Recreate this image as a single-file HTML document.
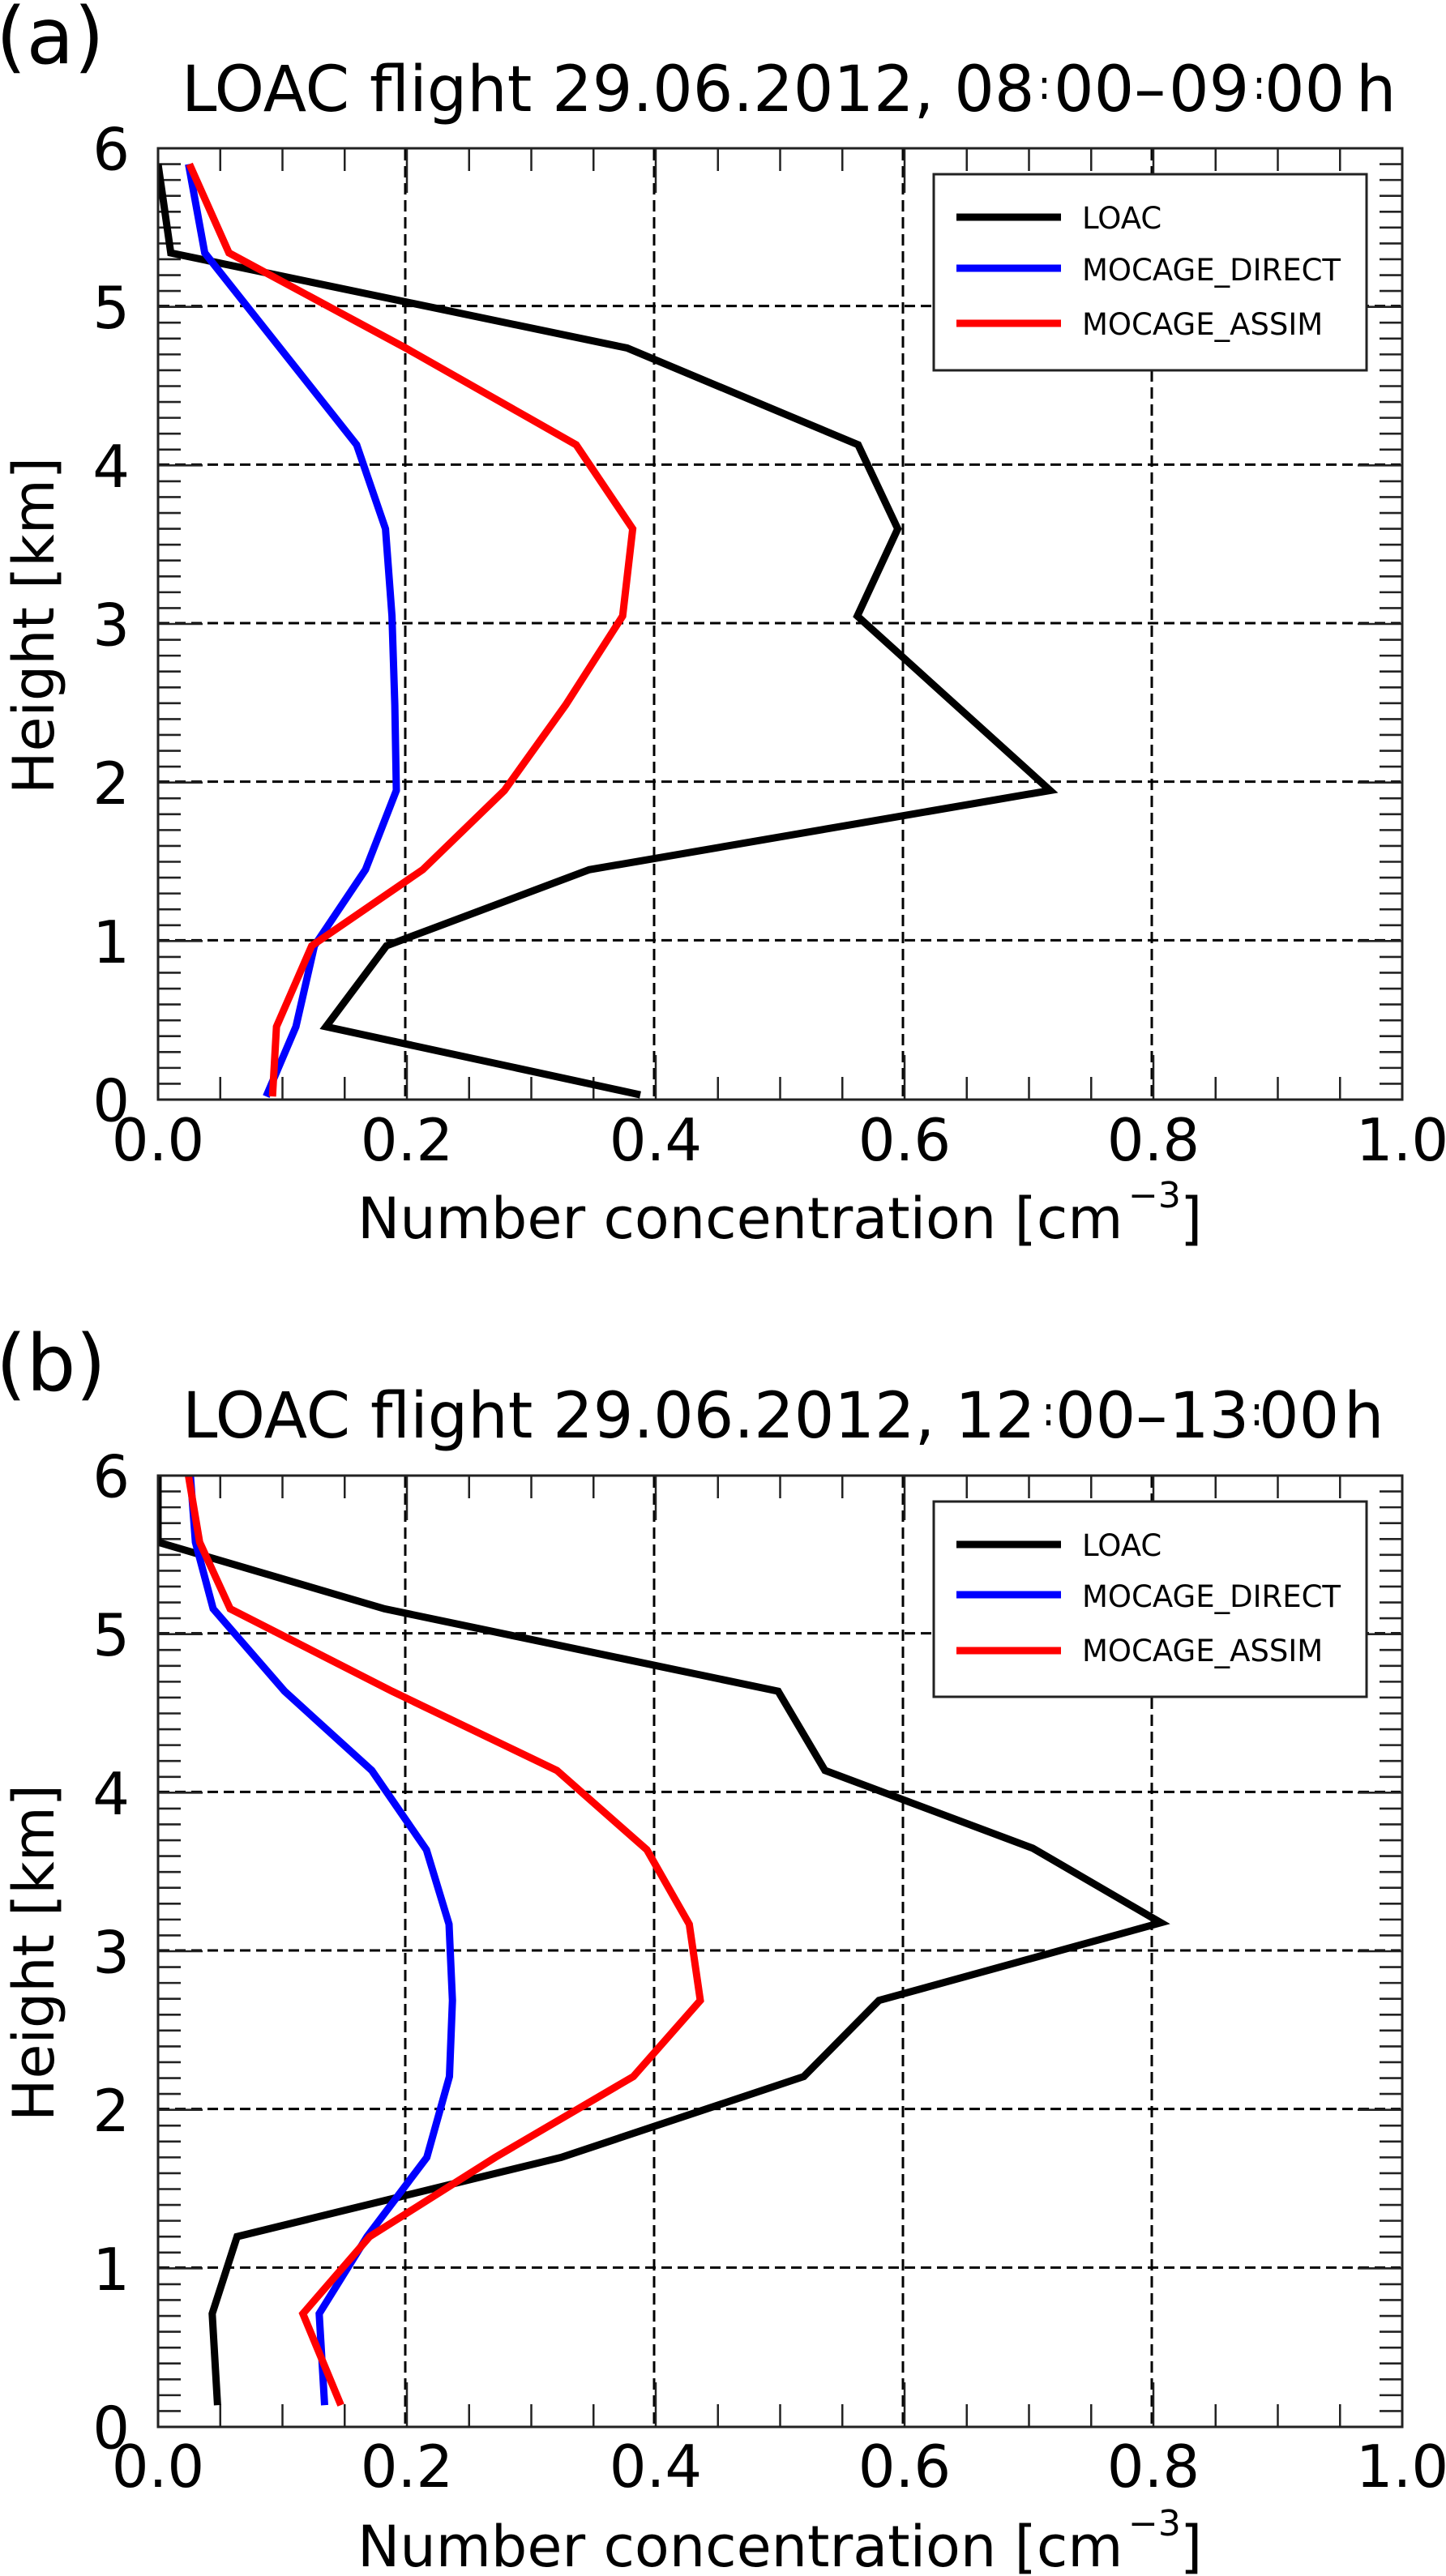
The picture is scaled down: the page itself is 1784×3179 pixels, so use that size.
<!DOCTYPE html>
<html lang="en">
<head>
<meta charset="utf-8">
<title>LOAC flight 29.06.2012 profiles</title>
<style>
html,body{margin:0;padding:0;background:#fff;}
svg{display:block;}
text{font-family:"DejaVu Sans","Liberation Sans",sans-serif;fill:#000;}
.title{font-size:78px;}
.tick{font-size:72px;}
.axis{font-size:70px;}
.panel{font-size:96px;}
.leg{font-size:37px;}
</style>
</head>
<body>
<svg id="fig" xmlns="http://www.w3.org/2000/svg" width="1784" height="3179" viewBox="0 0 1784 3179">
  <rect width="1784" height="3179" fill="#fff"/>
  <defs>
    <clipPath id="clip-a"><rect x="195" y="183" width="1535" height="1174"/></clipPath>
    <clipPath id="clip-b"><rect x="195" y="1821" width="1535" height="1174"/></clipPath>
  </defs>

  <g id="plot-a"></g>
  <g id="plot-b"></g>

  <text class="panel" x="-5" y="78">(a)</text>
  <text class="panel" x="-5" y="1716">(b)</text>

  <text class="title" x="224" y="137">LOAC flight 29.06.2012, 08<tspan x="1280" y="122" font-size="50">:</tspan><tspan x="1300" y="137">00–</tspan><tspan x="1442" y="137">09</tspan><tspan x="1545" y="122" font-size="50">:</tspan><tspan x="1560" y="137">00</tspan><tspan x="1673" y="137">h</tspan></text>
  <text class="title" x="225" y="1774">LOAC flight 29.06.2012, 12<tspan x="1285" y="1759" font-size="50">:</tspan><tspan x="1302" y="1774">00–</tspan><tspan x="1442" y="1774">13</tspan><tspan x="1542" y="1759" font-size="50">:</tspan><tspan x="1553" y="1774">00</tspan><tspan x="1658" y="1774">h</tspan></text>

  <text class="axis" x="441" y="1528">Number concentration [cm<tspan x="1392" y="1490" font-size="44">−3</tspan><tspan x="1456" y="1528">]</tspan></text>
  <text class="axis" x="441" y="3167">Number concentration [cm<tspan x="1392" y="3129" font-size="44">−3</tspan><tspan x="1456" y="3167">]</tspan></text>

  <text class="axis" transform="translate(66,980) rotate(-90)" textLength="416" lengthAdjust="spacingAndGlyphs">Height [km]</text>
  <text class="axis" transform="translate(66,2618) rotate(-90)" textLength="416" lengthAdjust="spacingAndGlyphs">Height [km]</text>

  <g>
    <rect x="1152" y="215" width="534" height="242" fill="#fff" stroke="#222" stroke-width="3"/>
    <line x1="1180" x2="1309" y1="268" y2="268" stroke="#000" stroke-width="9"/>
    <text class="leg" x="1335" y="282">LOAC</text>
    <line x1="1180" x2="1309" y1="331" y2="331" stroke="#0000ff" stroke-width="9"/>
    <text class="leg" x="1335" y="346">MOCAGE_DIRECT</text>
    <line x1="1180" x2="1309" y1="399" y2="399" stroke="#ff0000" stroke-width="9"/>
    <text class="leg" x="1335" y="413">MOCAGE_ASSIM</text>
  </g>
  <g>
    <rect x="1152" y="1853" width="534" height="241" fill="#fff" stroke="#222" stroke-width="3"/>
    <line x1="1180" x2="1309" y1="1906" y2="1906" stroke="#000" stroke-width="9"/>
    <text class="leg" x="1335" y="1920">LOAC</text>
    <line x1="1180" x2="1309" y1="1968" y2="1968" stroke="#0000ff" stroke-width="9"/>
    <text class="leg" x="1335" y="1983">MOCAGE_DIRECT</text>
    <line x1="1180" x2="1309" y1="2037" y2="2037" stroke="#ff0000" stroke-width="9"/>
    <text class="leg" x="1335" y="2050">MOCAGE_ASSIM</text>
  </g>
</svg>
<script>
// Tick labels
const xTickValues = [0, 0.2, 0.4, 0.6, 0.8, 1.0];
const xTickLabels = ['0.0', '0.2', '0.4', '0.6', '0.8', '1.0'];
const yTickValues = [0, 1, 2, 3, 4, 5, 6];
const yTickLabels = ['0', '1', '2', '3', '4', '5', '6'];

// Panel (a): heights in km, concentrations in cm^-3
const aLoacHeights = [5.9, 5.34, 4.74, 4.13, 3.6, 3.05, 1.95, 1.45, 0.97, 0.46, 0.03];
const aLoacValues = [0.0, 0.0102, 0.377, 0.5627, 0.5945, 0.562, 0.717, 0.3466, 0.1836, 0.135, 0.3876];
const aDirectHeights = [5.9, 5.34, 4.13, 3.6, 3.05, 2.49, 1.95, 1.45, 0.97, 0.46, 0.02];
const aDirectValues = [0.0245, 0.0375, 0.1596, 0.1828, 0.188, 0.1903, 0.1915, 0.1667, 0.1257, 0.1108, 0.0869];
const aAssimHeights = [5.9, 5.34, 4.74, 4.13, 3.6, 3.05, 2.49, 1.95, 1.45, 0.97, 0.46, 0.02];
const aAssimValues = [0.0252, 0.057, 0.199, 0.336, 0.3815, 0.3734, 0.3277, 0.2784, 0.2127, 0.1235, 0.0952, 0.092];

// Panel (b)
const bLoacHeights = [6.0, 5.58, 5.16, 4.64, 4.14, 3.65, 3.18, 2.69, 2.21, 1.7, 1.2, 0.714, 0.137];
const bLoacValues = [0.0, 0.0, 0.182, 0.4984, 0.536, 0.703, 0.806, 0.5795, 0.519, 0.324, 0.0635, 0.0435, 0.0478];
const bDirectHeights = [6.0, 5.58, 5.16, 4.64, 4.14, 3.64, 3.17, 2.69, 2.21, 1.7, 1.2, 0.714, 0.137];
const bDirectValues = [0.026, 0.03, 0.0443, 0.1017, 0.1718, 0.2157, 0.2339, 0.2366, 0.2342, 0.216, 0.168, 0.1295, 0.1339];
const bAssimHeights = [6.0, 5.58, 5.16, 4.64, 4.14, 3.64, 3.17, 2.69, 2.21, 1.7, 1.2, 0.714, 0.137];
const bAssimValues = [0.0244, 0.0334, 0.058, 0.188, 0.3206, 0.3929, 0.427, 0.4358, 0.382, 0.271, 0.17, 0.1164, 0.147];

const NS = 'http://www.w3.org/2000/svg';
const LEFT = 195, RIGHT = 1730, PLOT_H = 1174;

function xScale(v) { return LEFT + (RIGHT - LEFT) * v; }

function addLine(parent, x1, y1, x2, y2, stroke, width, dash) {
  const el = document.createElementNS(NS, 'line');
  el.setAttribute('x1', x1);
  el.setAttribute('y1', y1);
  el.setAttribute('x2', x2);
  el.setAttribute('y2', y2);
  el.setAttribute('stroke', stroke);
  el.setAttribute('stroke-width', width);
  if (dash) el.setAttribute('stroke-dasharray', dash);
  parent.appendChild(el);
  return el;
}

function addLabel(parent, x, y, anchor, str) {
  const el = document.createElementNS(NS, 'text');
  el.setAttribute('class', 'tick');
  el.setAttribute('x', x);
  el.setAttribute('y', y);
  el.setAttribute('text-anchor', anchor);
  el.textContent = str;
  parent.appendChild(el);
  return el;
}

function addSeries(parent, clipId, heights, values, yScale, color, name) {
  const el = document.createElementNS(NS, 'polyline');
  el.setAttribute('points', heights.map(function (h, i) {
    return xScale(values[i]).toFixed(1) + ',' + yScale(h).toFixed(1);
  }).join(' '));
  el.setAttribute('fill', 'none');
  el.setAttribute('stroke', color);
  el.setAttribute('stroke-width', '9');
  el.setAttribute('stroke-linejoin', 'miter');
  el.setAttribute('clip-path', 'url(#' + clipId + ')');
  
  
  parent.appendChild(el);
}

function drawPanel(groupId, clipId, top, prefix, labelBaseline, series) {
  const group = document.getElementById(groupId);
  const bottom = top + PLOT_H;
  const yScale = function (h) { return bottom - (PLOT_H / 6) * h; };

  // grid
  const grid = document.createElementNS(NS, 'g');
  
  
  group.appendChild(grid);
  xTickValues.slice(1, -1).forEach(function (v) {
    const line = addLine(grid, xScale(v) - 2, top + 1, xScale(v) - 2, bottom, '#000', 3, '14 7');
    
    
  });
  yTickValues.slice(1, -1).forEach(function (v) {
    const line = addLine(grid, LEFT + 1, yScale(v) - 1, RIGHT - 2, yScale(v) - 1, '#000', 3, '13 7');
    
    
  });

  // ticks
  const ticks = document.createElementNS(NS, 'g');
  
  
  ticks.setAttribute('stroke-linecap', 'butt');
  group.appendChild(ticks);
  for (let i = 1; i < 20; i++) {
    const len = i % 4 === 0 ? 55 : 28;
    const tx = xScale(i / 20);
    addLine(ticks, tx, bottom, tx, bottom - len, '#222', 2.5);
    addLine(ticks, tx, top, tx, top + len, '#222', 2.5);
  }
  for (let i = 1; i < 60; i++) {
    const len = i % 10 === 0 ? 55 : 28;
    const ty = yScale(i / 10);
    addLine(ticks, LEFT, ty, LEFT + len, ty, '#222', 2.6);
    addLine(ticks, RIGHT, ty, RIGHT - len, ty, '#222', 2.6);
  }

  // series
  series.forEach(function (s) {
    addSeries(group, clipId, s.heights, s.values, yScale, s.color, s.name);
  });

  // frame
  const frame = document.createElementNS(NS, 'rect');
  frame.setAttribute('x', LEFT);
  frame.setAttribute('y', top);
  frame.setAttribute('width', RIGHT - LEFT);
  frame.setAttribute('height', PLOT_H);
  frame.setAttribute('fill', 'none');
  frame.setAttribute('stroke', '#222');
  frame.setAttribute('stroke-width', '3');
  
  
  group.appendChild(frame);

  // labels
  xTickValues.forEach(function (v, i) {
    const label = addLabel(group, xScale(v), labelBaseline, 'middle', xTickLabels[i]);
    
    
  });
  yTickValues.forEach(function (v, i) {
    const label = addLabel(group, 160, yScale(v) + 26.5, 'end', yTickLabels[i]);
    
    
  });
}

drawPanel('plot-a', 'clip-a', 183, 'panel-a', 1432, [
  { heights: aLoacHeights, values: aLoacValues, color: '#000000', name: 'panel-a-series-loac' },
  { heights: aDirectHeights, values: aDirectValues, color: '#0000ff', name: 'panel-a-series-mocage-direct' },
  { heights: aAssimHeights, values: aAssimValues, color: '#ff0000', name: 'panel-a-series-mocage-assim' }
]);
drawPanel('plot-b', 'clip-b', 1821, 'panel-b', 3069, [
  { heights: bLoacHeights, values: bLoacValues, color: '#000000', name: 'panel-b-series-loac' },
  { heights: bDirectHeights, values: bDirectValues, color: '#0000ff', name: 'panel-b-series-mocage-direct' },
  { heights: bAssimHeights, values: bAssimValues, color: '#ff0000', name: 'panel-b-series-mocage-assim' }
]);
</script>
</body>
</html>
